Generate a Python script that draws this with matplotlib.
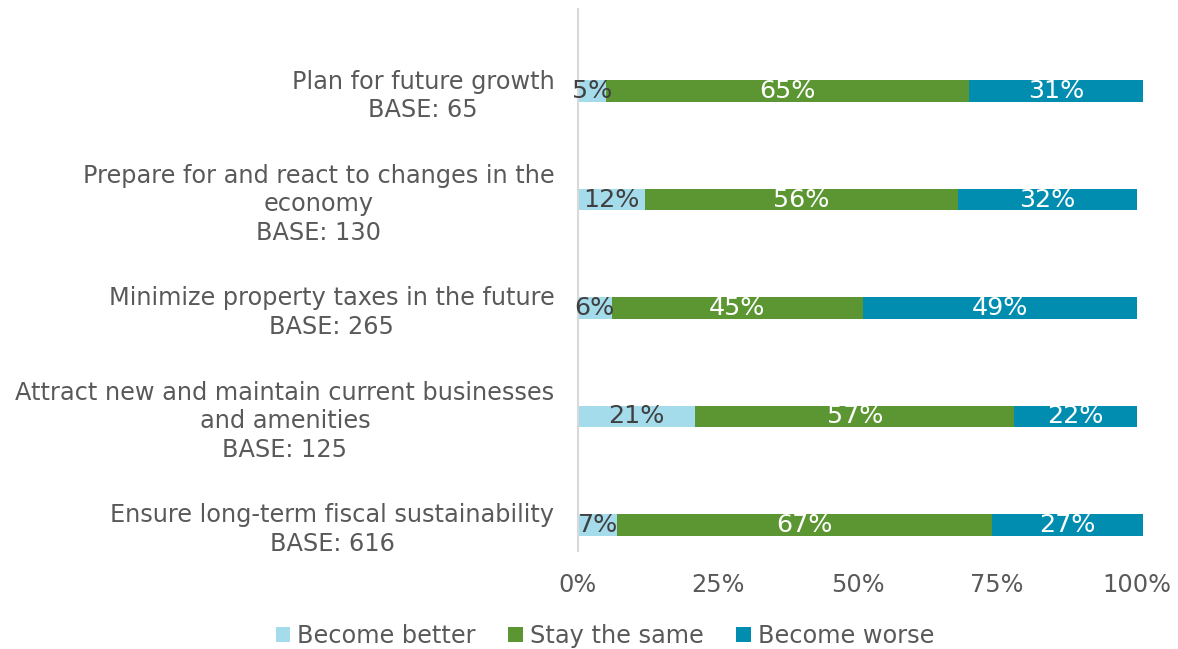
import matplotlib
matplotlib.use("Agg")
import matplotlib.pyplot as plt
import numpy as np

categories = [
    "Plan for future growth\nBASE: 65",
    "Prepare for and react to changes in the\neconomy\nBASE: 130",
    "Minimize property taxes in the future\nBASE: 265",
    "Attract new and maintain current businesses\nand amenities\nBASE: 125",
    "Ensure long-term fiscal sustainability\nBASE: 616",
]
series_names = ["Become better", "Stay the same", "Become worse"]
better = [5, 12, 6, 21, 7]
same = [65, 56, 45, 57, 67]
worse = [31, 32, 49, 22, 27]
x_ticks = [0, 25, 50, 75, 100]
x_tick_labels = ["0%", "25%", "50%", "75%", "100%"]

colors = ["#A5DCEC", "#5B9632", "#008DB0"]
label_colors = ["#404040", "white", "white"]
gray = "#595959"

plt.rcParams['font.family'] = ['DejaVu Sans']
W, H = 1178, 649
fig = plt.figure(figsize=(W / 100, H / 100), dpi=100)
ax = fig.add_axes([578 / W, 1 - 551 / H, 559 / W, 542 / H])

y = np.arange(len(categories))
left = np.zeros(len(categories))
fs = 17.3
for vals, name, c, lc in zip([better, same, worse], series_names, colors, label_colors):
    vals = np.array(vals, dtype=float)
    ax.barh(y, vals, left=left, height=0.2, color=c, label=name, clip_on=False)
    for yi, l, v in zip(y, left, vals):
        ax.text(l + v / 2, yi, f"{int(v)}%", ha="center", va="center",
                color=lc, fontsize=18.3, clip_on=False)
    left += vals

ax.set_xlim(0, 100)
ax.set_ylim(4.24, -0.756)
ax.set_yticks(y)
ax.set_yticklabels(categories, fontsize=fs, color=gray, multialignment="center",
                   linespacing=1.25)
ax.set_xticks(x_ticks)
ax.set_xticklabels(x_tick_labels, fontsize=fs, color=gray)
ax.tick_params(axis="y", length=0, pad=17)
ax.tick_params(axis="x", length=0, pad=16)
for s in ["top", "right", "bottom"]:
    ax.spines[s].set_visible(False)
ax.spines["left"].set_color("#D9D9D9")
ax.spines["left"].set_linewidth(1.5)

fig.legend(loc="center", bbox_to_anchor=(605 / W, 1 - 636 / H), ncol=3,
           frameon=False, fontsize=fs, handlelength=0.6, handleheight=0.6,
           handletextpad=0.3, columnspacing=1.35, labelcolor=gray)

fig.savefig("out.png", dpi=100)
